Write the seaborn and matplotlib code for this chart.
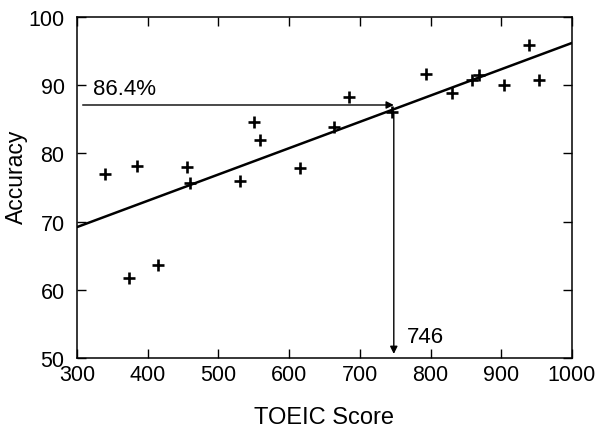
import pandas as pd
import matplotlib.pyplot as plt
import seaborn as sns

sns.set_style("ticks", {'axes.edgecolor': 'black', 'text.color': 'black',
                        'axes.labelcolor': 'black', 'xtick.color': 'black',
                        'ytick.color': 'black'})
plt.rcParams['font.family'] = ['Liberation Sans', 'DejaVu Sans']

# data
toeic = [340, 385, 455, 460, 530, 550, 559, 374, 414, 615,
         663, 684, 745, 794, 830, 858, 869, 904, 939, 953]
accuracy = [77.0, 78.1, 78.0, 75.6, 76.0, 84.6, 82.0, 61.7, 63.7, 77.8,
            83.9, 88.2, 86.0, 91.7, 88.9, 90.8, 91.5, 90.0, 95.9, 90.8]

fit_x = [300, 1000]
fit_y = [69.2, 96.2]

target_acc = 87.1
target_score = 748
acc_label = "86.4%"
score_label = "746"

df = pd.DataFrame({'TOEIC Score': toeic, 'Accuracy': accuracy})
fit = pd.DataFrame({'x': fit_x, 'y': fit_y})

fig = plt.figure(figsize=(5.98, 4.31), dpi=100)
ax = fig.add_axes([0.1288, 0.167, 0.8277, 0.7912])

sns.lineplot(data=fit, x='x', y='y', color='black', linewidth=1.8, ax=ax)
sns.scatterplot(data=df, x='TOEIC Score', y='Accuracy', marker='+', s=70,
                color='black', linewidth=1.9, ax=ax)

arrow = dict(arrowstyle='-|>', color='black', lw=1.0, mutation_scale=11,
             shrinkA=0, shrinkB=0)
ax.annotate('', xy=(target_score, target_acc), xytext=(308, target_acc),
            arrowprops=arrow)
ax.annotate('', xy=(target_score, 50.6), xytext=(target_score, 85.8),
            arrowprops=arrow)
ax.text(322, 88.7, acc_label, fontsize=16)
ax.text(766, 52.3, score_label, fontsize=16)

ax.set_xlim(300, 1000)
ax.set_ylim(50, 100)
ax.set_xticks(range(300, 1001, 100))
ax.set_yticks(range(50, 101, 10))
ax.tick_params(direction='in', length=6.5, width=1, top=True, right=True,
               labelsize=15.5)
ax.tick_params(axis='y', pad=9)
ax.tick_params(axis='x', pad=4)
for s in ax.spines.values():
    s.set_linewidth(1.1)
ax.set_xlabel("TOEIC Score", fontsize=17)
ax.set_ylabel("Accuracy", fontsize=16.5)
ax.xaxis.set_label_coords(0.499, -0.141)
ax.yaxis.set_label_coords(-0.099, 0.534)

plt.savefig("out.png", dpi=100)
